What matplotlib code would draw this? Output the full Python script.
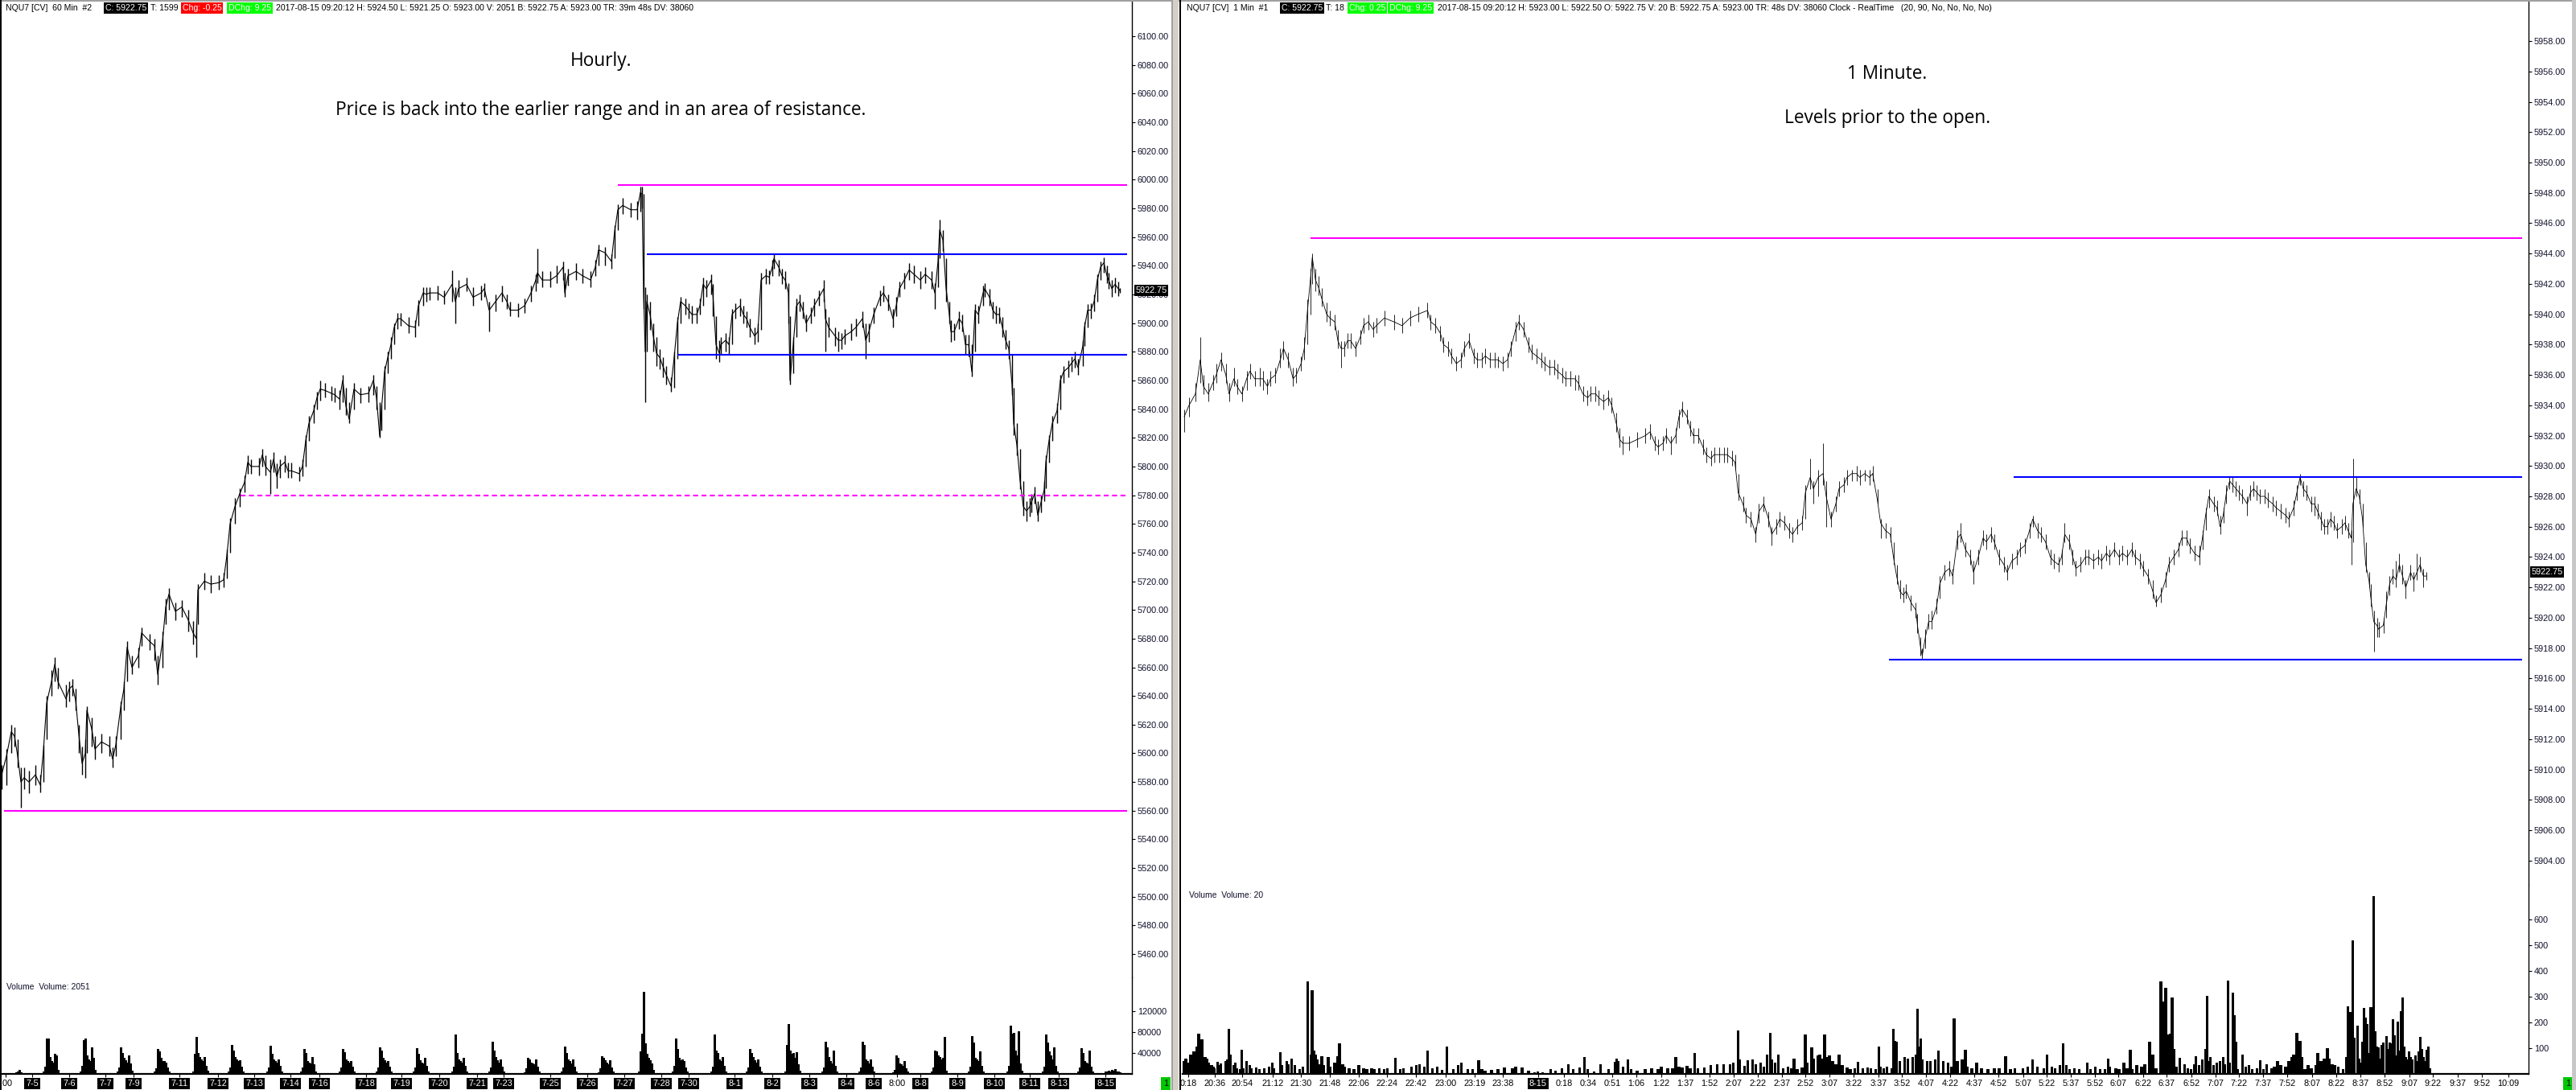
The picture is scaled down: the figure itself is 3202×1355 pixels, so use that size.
import numpy as np
import matplotlib
matplotlib.use("Agg")
import matplotlib.pyplot as plt
from matplotlib.patches import Rectangle

# ── Hourly chart (left): bar index, close, high, low ──
hour_bar = [1, 4, 7, 9, 11, 13, 15, 18, 22, 25,
            27, 29, 32, 34, 36, 41, 43, 45, 47, 49,
            51, 53, 54, 57, 59, 63, 68, 70, 72, 75,
            77, 79, 82, 86, 88, 93, 96, 98, 101, 103,
            105, 109, 113, 117, 120, 122, 123, 127, 131, 136,
            139, 141, 143, 146, 149, 152, 154, 156, 161, 163,
            165, 168, 170, 172, 174, 177, 179, 181, 186, 188,
            190, 192, 195, 197, 199, 202, 206, 208, 211, 213,
            215, 217, 220, 224, 229, 232, 234, 236, 237, 239,
            241, 243, 245, 247, 249, 254, 258, 260, 263, 265,
            267, 272, 276, 281, 283, 285, 290, 294, 299, 301,
            304, 308, 312, 315, 317, 322, 326, 330, 333, 334,
            337, 342, 346, 350, 351, 353, 358, 362, 367, 370,
            372, 376, 380, 382, 384, 387, 392, 396, 398, 399,
            400, 401, 402, 404, 406, 408, 410, 412, 414, 417,
            419, 421, 423, 426, 428, 430, 433, 435, 437, 439,
            442, 443, 445, 447, 448, 451, 453, 455, 457, 460,
            462, 464, 466, 469, 471, 473, 476, 478, 480, 481,
            484, 486, 488, 490, 491, 493, 495, 497, 499, 501,
            504, 506, 509, 512, 513, 515, 519, 521, 523, 525,
            529, 532, 536, 538, 540, 543, 547, 549, 552, 555,
            557, 559, 562, 565, 568, 572, 575, 579, 581, 583,
            584, 586, 588, 590, 591, 593, 596, 598, 600, 602,
            604, 606, 608, 611, 612, 615, 617, 619, 621, 623,
            625, 627, 629, 630, 632, 634, 636, 638, 640, 641,
            643, 645, 647, 649, 650, 652, 654, 657, 659, 661,
            664, 666, 668, 670, 673, 674, 676, 678, 680, 682,
            684, 686, 688, 689, 691, 693, 695, 696]
hour_close = [5585, 5598, 5615, 5612, 5598, 5580, 5583, 5580, 5585, 5578,
              5602, 5635, 5650, 5662, 5650, 5638, 5645, 5647, 5637, 5613,
              5593, 5600, 5630, 5617, 5603, 5608, 5605, 5596, 5606, 5632,
              5645, 5674, 5660, 5668, 5684, 5678, 5675, 5655, 5678, 5702,
              5711, 5699, 5702, 5693, 5684, 5680, 5714, 5720, 5718, 5719,
              5721, 5738, 5760, 5772, 5781, 5789, 5803, 5800, 5800, 5808,
              5800, 5796, 5805, 5793, 5800, 5803, 5797, 5797, 5795, 5800,
              5818, 5830, 5839, 5848, 5854, 5853, 5851, 5850, 5847, 5860,
              5842, 5833, 5854, 5850, 5851, 5860, 5848, 5821, 5839, 5866,
              5876, 5885, 5897, 5903, 5903, 5898, 5897, 5912, 5921, 5920,
              5921, 5921, 5918, 5927, 5915, 5924, 5927, 5918, 5921, 5924,
              5909, 5915, 5921, 5915, 5909, 5909, 5912, 5921, 5930, 5935,
              5930, 5930, 5933, 5939, 5921, 5933, 5936, 5933, 5930, 5939,
              5951, 5949, 5943, 5964, 5979, 5982, 5979, 5979, 5991, 5990,
              5921, 5880, 5915, 5906, 5891, 5879, 5876, 5870, 5864, 5856,
              5876, 5900, 5915, 5912, 5909, 5906, 5906, 5912, 5927, 5924,
              5930, 5921, 5885, 5879, 5885, 5888, 5885, 5906, 5909, 5912,
              5906, 5903, 5897, 5891, 5894, 5930, 5933, 5932, 5939, 5945,
              5939, 5933, 5930, 5921, 5860, 5885, 5912, 5915, 5909, 5900,
              5906, 5912, 5918, 5924, 5903, 5897, 5891, 5888, 5888, 5891,
              5894, 5897, 5903, 5888, 5894, 5906, 5918, 5921, 5915, 5903,
              5912, 5924, 5930, 5937, 5934, 5930, 5934, 5930, 5921, 5943,
              5965, 5958, 5924, 5906, 5894, 5894, 5903, 5900, 5885, 5885,
              5866, 5909, 5906, 5921, 5924, 5918, 5909, 5906, 5906, 5897,
              5888, 5882, 5857, 5830, 5815, 5790, 5772, 5769, 5772, 5775,
              5781, 5766, 5775, 5784, 5803, 5818, 5830, 5839, 5860, 5866,
              5869, 5872, 5875, 5869, 5884, 5897, 5909, 5909, 5915, 5930,
              5939, 5942, 5933, 5930, 5924, 5927, 5924, 5922.75]
hour_high = [5592, 5603, 5620, 5618, 5610, 5590, 5590, 5588, 5592, 5585,
             5606, 5640, 5658, 5667, 5660, 5648, 5650, 5652, 5645, 5620,
             5605, 5610, 5633, 5625, 5612, 5614, 5612, 5604, 5612, 5636,
             5650, 5678, 5668, 5674, 5688, 5683, 5680, 5668, 5685, 5708,
             5715, 5705, 5707, 5700, 5692, 5690, 5718, 5726, 5724, 5724,
             5726, 5742, 5764, 5778, 5785, 5794, 5808, 5805, 5806, 5812,
             5808, 5805, 5810, 5802, 5805, 5808, 5803, 5803, 5800, 5805,
             5822, 5835, 5843, 5852, 5860, 5858, 5856, 5855, 5853, 5864,
             5855, 5845, 5858, 5855, 5856, 5864, 5856, 5845, 5843, 5870,
             5880, 5890, 5900, 5907, 5907, 5904, 5902, 5916, 5925, 5925,
             5925, 5926, 5923, 5937, 5925, 5930, 5932, 5925, 5926, 5928,
             5915, 5920, 5926, 5920, 5915, 5914, 5917, 5926, 5934, 5952,
             5936, 5936, 5940, 5943, 5935, 5938, 5942, 5938, 5936, 5944,
             5955, 5953, 5948, 5968, 5983, 5987, 5984, 5985, 5995, 5995,
             5990, 5925, 5920, 5915, 5900, 5890, 5882, 5876, 5870, 5862,
             5880, 5904, 5918, 5917, 5914, 5912, 5911, 5917, 5932, 5930,
             5934, 5927, 5905, 5888, 5890, 5893, 5890, 5910, 5914, 5917,
             5912, 5908, 5903, 5897, 5900, 5935, 5938, 5937, 5944, 5948,
             5944, 5938, 5936, 5928, 5905, 5890, 5917, 5920, 5915, 5906,
             5911, 5917, 5923, 5930, 5910, 5904, 5897, 5894, 5893, 5896,
             5900, 5903, 5908, 5900, 5900, 5911, 5923, 5926, 5920, 5910,
             5918, 5929, 5935, 5942, 5940, 5936, 5939, 5936, 5928, 5948,
             5972, 5965, 5945, 5915, 5902, 5900, 5908, 5906, 5892, 5892,
             5885, 5913, 5912, 5926, 5928, 5924, 5915, 5912, 5911, 5904,
             5895, 5888, 5878, 5855, 5830, 5812, 5790, 5776, 5778, 5781,
             5786, 5776, 5780, 5790, 5808, 5822, 5835, 5844, 5864, 5870,
             5874, 5877, 5880, 5875, 5888, 5901, 5913, 5914, 5920, 5934,
             5943, 5946, 5940, 5935, 5930, 5932, 5929, 5924.5]
hour_low = [5575, 5578, 5600, 5605, 5590, 5562, 5575, 5572, 5578, 5573,
            5580, 5610, 5640, 5650, 5645, 5632, 5636, 5640, 5630, 5600,
            5585, 5583, 5600, 5605, 5596, 5600, 5598, 5590, 5598, 5610,
            5630, 5650, 5655, 5660, 5675, 5672, 5665, 5648, 5660, 5690,
            5700, 5693, 5695, 5685, 5676, 5667, 5690, 5714, 5712, 5714,
            5716, 5722, 5740, 5760, 5772, 5782, 5795, 5795, 5794, 5800,
            5794, 5781, 5796, 5785, 5792, 5796, 5792, 5792, 5790, 5793,
            5800, 5818, 5830, 5840, 5846, 5848, 5846, 5845, 5840, 5845,
            5836, 5830, 5840, 5844, 5845, 5850, 5840, 5820, 5825, 5840,
            5865, 5875, 5885, 5896, 5898, 5893, 5890, 5898, 5912, 5915,
            5916, 5916, 5913, 5915, 5900, 5918, 5922, 5912, 5916, 5918,
            5894, 5908, 5915, 5910, 5905, 5904, 5907, 5915, 5922, 5928,
            5925, 5925, 5928, 5930, 5918, 5926, 5930, 5928, 5925, 5933,
            5940, 5940, 5938, 5945, 5965, 5976, 5974, 5972, 5978, 5980,
            5910, 5845, 5880, 5895, 5880, 5870, 5868, 5862, 5857, 5852,
            5855, 5875, 5900, 5906, 5903, 5900, 5900, 5906, 5912, 5918,
            5920, 5905, 5875, 5873, 5878, 5880, 5878, 5885, 5903, 5905,
            5900, 5897, 5890, 5885, 5887, 5895, 5927, 5927, 5933, 5938,
            5933, 5927, 5924, 5900, 5857, 5865, 5890, 5908, 5903, 5894,
            5900, 5905, 5912, 5915, 5880, 5890, 5884, 5880, 5882, 5885,
            5888, 5891, 5897, 5875, 5887, 5900, 5912, 5915, 5909, 5897,
            5905, 5918, 5924, 5930, 5928, 5924, 5928, 5924, 5910, 5925,
            5945, 5950, 5915, 5900, 5887, 5888, 5896, 5894, 5878, 5877,
            5863, 5880, 5900, 5912, 5918, 5912, 5903, 5900, 5900, 5890,
            5882, 5875, 5850, 5822, 5808, 5784, 5766, 5762, 5765, 5768,
            5774, 5762, 5768, 5776, 5785, 5803, 5818, 5830, 5840, 5858,
            5862, 5866, 5869, 5864, 5870, 5884, 5897, 5903, 5908, 5915,
            5930, 5935, 5928, 5924, 5918, 5921, 5919, 5921.25]

# hourly volume, one cluster of bars per session (thousands of contracts)
vol_cluster_start = [10, 27, 50, 73, 96, 120, 142, 166, 187, 211, 234, 257, 281, 304, 326, 349,
                     372, 397, 418, 442, 464, 488, 511, 534, 555, 579, 602, 626, 648, 670, 687]
vol_cluster_k = [
    [3, 4, 8, 3],
    [4, 14, 67, 68, 32, 25, 22, 39, 35, 8],
    [5, 15, 64, 68, 35, 28, 24, 50, 30, 8],
    [4, 12, 51, 40, 30, 26, 22, 35, 20, 6],
    [4, 10, 47, 43, 30, 25, 24, 22, 12, 5],
    [5, 38, 70, 40, 32, 28, 24, 33, 15, 6],
    [4, 12, 55, 45, 32, 28, 24, 26, 14, 5],
    [4, 12, 54, 38, 27, 24, 22, 28, 15, 5],
    [4, 12, 47, 40, 24, 22, 20, 32, 18, 5],
    [4, 12, 47, 42, 28, 25, 22, 24, 14, 5],
    [4, 12, 50, 45, 30, 26, 22, 25, 14, 5],
    [4, 12, 49, 38, 26, 22, 20, 30, 15, 5],
    [4, 14, 75, 40, 27, 24, 22, 30, 16, 5],
    [4, 12, 62, 44, 32, 26, 22, 27, 14, 5],
    [3, 10, 30, 28, 22, 20, 18, 27, 14, 4],
    [4, 12, 52, 40, 28, 24, 20, 28, 14, 5],
    [3, 10, 34, 30, 26, 22, 18, 26, 12, 4],
    [4, 43, 77, 157, 58, 38, 30, 26, 20, 8],
    [5, 15, 68, 48, 30, 26, 27, 24, 12, 5],
    [5, 14, 76, 45, 40, 28, 24, 32, 15, 5],
    [4, 12, 48, 40, 32, 26, 22, 27, 14, 5],
    [5, 56, 96, 45, 38, 40, 30, 41, 18, 6],
    [4, 12, 62, 50, 32, 25, 20, 45, 15, 5],
    [4, 12, 62, 55, 27, 24, 20, 28, 14, 5],
    [3, 8, 35, 30, 20, 18, 15, 25, 10, 4],
    [4, 12, 44, 43, 36, 32, 28, 30, 70, 6],
    [5, 14, 73, 60, 30, 28, 24, 43, 15, 5],
    [5, 15, 92, 77, 79, 45, 35, 81, 20, 6],
    [5, 14, 76, 60, 43, 35, 28, 50, 15, 5],
    [4, 12, 49, 40, 25, 22, 20, 45, 14, 5],
    [4, 5, 6, 5, 7, 6, 9, 5, 4, 3],
]

hour_tick_pos = [3.5, 20, 43, 65.5, 83, 111.5, 135.5, 158, 180.5, 198.5, 227.5, 249.5, 273, 296.5,
                 313, 342, 365, 388, 411, 428, 456.5, 480, 503, 526, 543, 557.5, 572, 595, 618,
                 640, 658, 687]
hour_tick_lab = [":00", "7-5", "7-6", "7-7", "7-9", "7-11", "7-12", "7-13", "7-14", "7-16", "7-18",
                 "7-19", "7-20", "7-21", "7-23", "7-25", "7-26", "7-27", "7-28", "7-30", "8-1",
                 "8-2", "8-3", "8-4", "8-6", "8:00", "8-8", "8-9", "8-10", "8-11", "8-13", "8-15"]

# horizontal levels on the hourly chart: price, first bar, colour, style
hour_level_price = [5996, 5948, 5878, 5779.5, 5560]
hour_level_start = [384, 402, 421, 149.5, 2.5]
hour_level_color = ["#ff00ff", "#0000ff", "#0000ff", "#ff00ff", "#ff00ff"]
hour_level_dash = [False, False, False, True, False]

# ── 1 minute chart (right): bar index, close, high, low ──
min_bar = [1, 4, 8, 11, 13, 16, 19, 21, 24, 27,
           29, 32, 34, 37, 40, 42, 45, 48, 50, 53,
           55, 58, 61, 63, 66, 69, 71, 74, 76, 78,
           80, 81, 83, 85, 87, 90, 92, 95, 97, 99,
           101, 103, 105, 108, 111, 113, 116, 119, 121, 126,
           132, 137, 142, 147, 153, 155, 158, 161, 163, 166,
           168, 171, 174, 176, 179, 182, 184, 187, 189, 192,
           195, 197, 200, 203, 205, 208, 210, 213, 216, 218,
           221, 224, 226, 229, 232, 234, 237, 239, 242, 245,
           247, 250, 253, 255, 258, 260, 263, 266, 268, 271,
           273, 275, 279, 284, 289, 292, 295, 297, 300, 302,
           305, 308, 310, 312, 315, 317, 319, 322, 325, 327,
           330, 332, 335, 338, 340, 343, 345, 347, 350, 352,
           355, 358, 360, 363, 366, 368, 371, 373, 376, 379,
           381, 384, 387, 389, 392, 394, 397, 400, 402, 405,
           408, 410, 413, 415, 418, 421, 423, 426, 429, 431,
           434, 436, 439, 442, 444, 446, 448, 450, 452, 455,
           458, 459, 461, 462, 464, 466, 468, 471, 473, 476,
           479, 481, 484, 486, 489, 492, 494, 497, 500, 502,
           505, 507, 510, 513, 515, 518, 521, 523, 526, 529,
           531, 534, 536, 539, 542, 544, 547, 549, 551, 554,
           556, 558, 561, 564, 566, 569, 572, 574, 577, 579,
           582, 585, 587, 590, 593, 595, 598, 600, 603, 606,
           608, 611, 614, 616, 619, 622, 624, 627, 629, 632,
           635, 637, 639, 641, 644, 646, 648, 650, 652, 654,
           656, 658, 660, 662, 665, 667, 669, 671, 673, 676,
           678, 681, 683, 686, 689, 691, 694, 696, 698, 700,
           702, 705, 707, 709, 711, 713, 715, 717, 719, 721,
           724, 726, 728, 730, 731, 733, 735, 737, 739, 741,
           742, 744, 746, 747, 750, 752, 754, 756, 758, 760,
           762, 764, 767, 769, 771, 773, 775, 777]
min_close = [5933.25, 5934.0, 5934.75, 5937.0, 5935.25, 5934.75, 5935.5, 5936.0, 5937.0, 5936.0,
             5934.75, 5935.75, 5935.25, 5934.75, 5935.75, 5936.25, 5935.75, 5935.75, 5935.75, 5935.25,
             5935.75, 5936.0, 5937.0, 5937.75, 5937.0, 5935.75, 5936.0, 5936.75, 5937.75, 5940.25,
             5942.5, 5943.75, 5942.25, 5941.75, 5941.0, 5940.0, 5939.75, 5939.5, 5938.25, 5937.75,
             5937.75, 5938.25, 5938.25, 5937.75, 5938.5, 5939.25, 5939.5, 5939.0, 5939.25, 5939.75,
             5939.5, 5939.25, 5939.75, 5940.0, 5940.25, 5939.5, 5939.25, 5938.75, 5938.0, 5937.75,
             5937.25, 5936.75, 5937.0, 5937.75, 5938.25, 5937.25, 5937.0, 5937.0, 5937.25, 5937.0,
             5937.0, 5937.0, 5936.75, 5937.0, 5937.75, 5939.0, 5939.5, 5939.0, 5938.0, 5937.5,
             5937.25, 5937.0, 5936.75, 5936.5, 5936.5, 5936.25, 5936.0, 5935.75, 5935.75, 5935.75,
             5935.5, 5934.75, 5934.5, 5934.75, 5934.75, 5934.5, 5934.25, 5934.5, 5934.0, 5932.75,
             5931.75, 5931.5, 5931.5, 5931.75, 5932.0, 5932.25, 5931.5, 5931.25, 5931.5, 5932.0,
             5931.5, 5932.0, 5933.25, 5933.75, 5933.25, 5932.5, 5932.0, 5932.0, 5931.25, 5930.75,
             5930.5, 5930.75, 5930.75, 5930.75, 5930.75, 5930.5, 5930.25, 5928.25, 5927.5, 5926.75,
             5926.5, 5925.5, 5927.0, 5927.5, 5926.5, 5925.5, 5926.0, 5926.5, 5926.25, 5925.75,
             5925.5, 5926.0, 5926.25, 5928.25, 5929.25, 5928.5, 5929.25, 5929.5, 5928.0, 5926.5,
             5927.5, 5928.5, 5928.75, 5929.25, 5929.5, 5929.5, 5929.25, 5929.5, 5929.25, 5929.5,
             5927.75, 5926.25, 5925.75, 5925.5, 5924.0, 5922.75, 5921.75, 5921.5, 5921.75, 5921.0,
             5920.5, 5919.5, 5918.0, 5917.5, 5918.75, 5919.75, 5919.75, 5920.75, 5922.25, 5923.0,
             5923.25, 5922.75, 5925.25, 5925.5, 5924.5, 5924.0, 5923.0, 5924.0, 5925.25, 5925.0,
             5925.5, 5925.0, 5924.0, 5923.5, 5923.0, 5923.75, 5924.0, 5924.5, 5924.75, 5925.75,
             5926.5, 5925.75, 5925.5, 5925.0, 5924.0, 5923.75, 5923.5, 5924.0, 5925.5, 5925.0,
             5924.0, 5923.25, 5923.5, 5924.0, 5924.0, 5923.75, 5924.0, 5923.75, 5924.25, 5924.0,
             5924.5, 5924.0, 5924.25, 5924.0, 5924.5, 5924.0, 5923.75, 5923.25, 5922.75, 5921.75,
             5921.0, 5921.5, 5922.5, 5923.5, 5924.0, 5924.5, 5925.25, 5925.25, 5924.75, 5924.25,
             5924.0, 5925.25, 5926.75, 5928.0, 5927.5, 5927.25, 5926.0, 5926.75, 5928.25, 5929.0,
             5928.75, 5928.5, 5928.25, 5928.0, 5927.5, 5928.25, 5928.5, 5928.25, 5928.0, 5928.0,
             5927.75, 5927.5, 5927.25, 5927.0, 5926.75, 5926.5, 5927.25, 5928.25, 5929.25, 5928.5,
             5928.25, 5927.5, 5927.5, 5927.0, 5926.5, 5926.0, 5926.0, 5926.5, 5926.25, 5925.75,
             5926.0, 5926.25, 5925.75, 5925.25, 5927.5, 5928.5, 5928.0, 5926.5, 5923.5, 5922.5,
             5921.5, 5919.75, 5919.5, 5919.25, 5919.5, 5921.0, 5922.25, 5922.75, 5922.5, 5923.5,
             5922.75, 5922.0, 5923.0, 5922.5, 5923.0, 5923.5, 5922.75, 5922.75]
min_high = [5933.75, 5934.5, 5935.5, 5938.5, 5936.0, 5935.5, 5936.0, 5936.75, 5937.5, 5936.75,
            5935.5, 5936.5, 5935.75, 5935.25, 5936.25, 5936.75, 5936.25, 5936.5, 5936.25, 5935.75,
            5936.25, 5936.5, 5937.75, 5938.25, 5937.5, 5936.5, 5936.5, 5937.25, 5938.5, 5941.0,
            5943.0, 5944.0, 5943.0, 5942.5, 5941.75, 5940.75, 5940.25, 5940.0, 5939.0, 5938.25,
            5938.25, 5938.75, 5938.75, 5938.25, 5939.0, 5939.75, 5940.0, 5939.5, 5939.75, 5940.25,
            5940.0, 5939.75, 5940.25, 5940.5, 5940.75, 5940.0, 5939.75, 5939.25, 5938.5, 5938.25,
            5937.75, 5937.25, 5937.5, 5938.25, 5938.75, 5937.75, 5937.5, 5937.5, 5937.75, 5937.5,
            5937.5, 5937.25, 5937.25, 5937.5, 5938.25, 5939.5, 5940.0, 5939.5, 5938.5, 5938.0,
            5937.75, 5937.5, 5937.25, 5937.0, 5937.0, 5936.75, 5936.5, 5936.25, 5936.25, 5936.0,
            5936.0, 5935.25, 5935.0, 5935.25, 5935.25, 5935.0, 5934.75, 5935.0, 5934.5, 5933.5,
            5932.5, 5932.0, 5932.0, 5932.25, 5932.5, 5932.75, 5932.0, 5931.75, 5932.0, 5932.5,
            5932.0, 5932.5, 5933.75, 5934.25, 5933.75, 5933.0, 5932.5, 5932.5, 5931.75, 5931.25,
            5931.0, 5931.25, 5931.25, 5931.25, 5931.25, 5931.0, 5930.75, 5929.5, 5928.0, 5927.25,
            5927.0, 5926.0, 5927.5, 5928.0, 5927.0, 5926.0, 5926.5, 5927.0, 5926.75, 5926.25,
            5926.0, 5926.5, 5926.75, 5928.75, 5930.5, 5929.0, 5929.75, 5931.5, 5929.0, 5927.0,
            5928.0, 5929.0, 5929.25, 5929.75, 5929.75, 5930.0, 5929.75, 5929.75, 5929.75, 5930.0,
            5928.5, 5926.5, 5926.25, 5926.0, 5925.0, 5923.5, 5922.5, 5922.0, 5922.25, 5921.5,
            5921.0, 5920.25, 5918.75, 5918.0, 5919.25, 5920.25, 5920.5, 5921.25, 5922.75, 5923.5,
            5923.75, 5923.25, 5925.75, 5926.25, 5925.0, 5924.5, 5923.75, 5924.5, 5925.75, 5925.5,
            5926.0, 5925.5, 5924.5, 5924.0, 5923.5, 5924.25, 5924.5, 5925.0, 5925.25, 5926.25,
            5926.75, 5926.25, 5926.0, 5925.5, 5924.5, 5924.25, 5924.0, 5924.5, 5926.25, 5925.5,
            5924.5, 5923.75, 5924.0, 5924.5, 5924.5, 5924.25, 5924.5, 5924.25, 5924.75, 5924.5,
            5925.0, 5924.5, 5924.75, 5924.5, 5925.0, 5924.5, 5924.25, 5923.75, 5923.25, 5922.5,
            5921.5, 5922.0, 5923.0, 5924.0, 5924.5, 5925.0, 5925.75, 5925.75, 5925.25, 5924.75,
            5924.75, 5925.75, 5927.25, 5928.5, 5928.0, 5927.75, 5926.75, 5927.25, 5928.75, 5929.25,
            5929.25, 5929.0, 5928.75, 5928.5, 5928.0, 5928.75, 5929.0, 5928.75, 5928.5, 5928.5,
            5928.25, 5928.0, 5927.75, 5927.5, 5927.25, 5927.0, 5927.75, 5928.75, 5929.5, 5929.0,
            5928.75, 5928.0, 5928.0, 5927.5, 5927.0, 5926.5, 5926.5, 5927.0, 5926.75, 5926.25,
            5926.5, 5926.75, 5926.25, 5925.75, 5930.5, 5929.25, 5928.5, 5927.5, 5925.0, 5923.0,
            5922.25, 5920.5, 5920.0, 5919.75, 5920.0, 5921.75, 5922.75, 5923.25, 5923.75, 5924.25,
            5923.5, 5922.5, 5923.5, 5923.0, 5924.25, 5924.0, 5923.25, 5923.0]
min_low = [5932.25, 5933.25, 5934.25, 5935.5, 5934.75, 5934.25, 5935.0, 5935.5, 5936.25, 5935.5,
           5934.25, 5935.25, 5934.75, 5934.25, 5935.0, 5935.75, 5935.25, 5935.25, 5935.0, 5934.75,
           5935.25, 5935.5, 5936.5, 5937.0, 5936.5, 5935.25, 5935.5, 5936.25, 5937.0, 5938.0,
           5940.0, 5942.0, 5941.5, 5941.25, 5940.5, 5939.5, 5939.25, 5939.0, 5937.75, 5936.5,
           5937.25, 5937.75, 5937.75, 5937.25, 5938.0, 5938.75, 5939.0, 5938.5, 5938.75, 5939.25,
           5939.0, 5938.75, 5939.25, 5939.5, 5939.75, 5939.0, 5938.75, 5938.25, 5937.5, 5937.25,
           5936.75, 5936.25, 5936.5, 5937.25, 5937.75, 5936.75, 5936.5, 5936.5, 5936.75, 5936.5,
           5936.5, 5936.5, 5936.25, 5936.5, 5937.25, 5938.25, 5939.0, 5938.5, 5937.5, 5937.0,
           5936.75, 5936.5, 5936.25, 5936.0, 5936.0, 5935.75, 5935.5, 5935.25, 5935.25, 5935.0,
           5935.0, 5934.25, 5934.0, 5934.25, 5934.25, 5934.0, 5933.75, 5934.0, 5933.5, 5932.25,
           5931.25, 5930.75, 5931.0, 5931.25, 5931.5, 5931.75, 5931.0, 5930.75, 5931.0, 5931.5,
           5930.75, 5931.5, 5932.5, 5933.25, 5932.75, 5932.0, 5931.5, 5931.5, 5930.75, 5930.25,
           5930.0, 5930.25, 5930.25, 5930.25, 5930.25, 5930.0, 5929.75, 5927.75, 5927.0, 5926.25,
           5926.0, 5925.0, 5926.25, 5927.0, 5926.0, 5924.75, 5925.5, 5926.0, 5925.75, 5925.25,
           5925.0, 5925.5, 5925.75, 5926.5, 5928.5, 5927.5, 5928.0, 5928.75, 5926.0, 5926.0,
           5927.0, 5928.0, 5928.25, 5928.75, 5929.0, 5929.0, 5928.75, 5929.0, 5928.75, 5929.0,
           5927.5, 5925.25, 5925.25, 5925.0, 5923.5, 5922.25, 5921.25, 5921.0, 5921.25, 5920.5,
           5920.0, 5919.0, 5917.5, 5917.25, 5918.0, 5919.25, 5919.25, 5920.25, 5921.25, 5922.5,
           5922.75, 5922.25, 5924.5, 5925.0, 5924.0, 5923.5, 5922.25, 5923.5, 5924.75, 5924.5,
           5925.0, 5924.5, 5923.5, 5923.0, 5922.5, 5923.25, 5923.5, 5924.0, 5924.25, 5925.25,
           5926.0, 5925.25, 5925.0, 5924.5, 5923.5, 5923.25, 5923.0, 5923.5, 5925.0, 5924.5,
           5923.5, 5922.75, 5923.0, 5923.5, 5923.5, 5923.25, 5923.5, 5923.25, 5923.75, 5923.5,
           5924.0, 5923.5, 5923.75, 5923.5, 5924.0, 5923.5, 5923.25, 5922.75, 5922.25, 5921.25,
           5920.75, 5921.0, 5922.0, 5923.0, 5923.5, 5924.0, 5924.75, 5924.75, 5924.25, 5923.75,
           5923.5, 5924.5, 5925.75, 5927.25, 5927.0, 5926.75, 5925.5, 5926.25, 5927.5, 5928.5,
           5928.25, 5928.0, 5927.75, 5927.5, 5926.75, 5927.75, 5928.0, 5927.75, 5927.5, 5927.5,
           5927.25, 5927.0, 5926.75, 5926.5, 5926.25, 5926.0, 5926.75, 5927.75, 5928.75, 5928.0,
           5927.75, 5927.0, 5926.75, 5926.5, 5925.75, 5925.5, 5925.5, 5926.0, 5925.75, 5925.25,
           5925.5, 5925.75, 5925.25, 5923.5, 5925.0, 5928.0, 5927.5, 5926.0, 5923.0, 5922.0,
           5920.75, 5917.75, 5918.75, 5918.75, 5919.0, 5920.0, 5921.5, 5922.25, 5922.0, 5923.0,
           5922.25, 5921.25, 5922.5, 5921.75, 5922.5, 5923.0, 5922.0, 5922.5]

# 1 minute volume (contracts)
min_vol_bar = [1, 2, 4, 5, 6, 7, 9, 10, 11, 12,
               14, 15, 16, 18, 19, 20, 22, 23, 24, 27,
               28, 29, 30, 32, 33, 34, 36, 37, 38, 40,
               42, 43, 46, 48, 51, 54, 56, 57, 61, 62,
               65, 66, 68, 70, 73, 75, 78, 80, 81, 82,
               83, 84, 86, 87, 88, 91, 92, 95, 97, 98,
               100, 101, 104, 107, 110, 113, 115, 118, 120, 123,
               126, 128, 133, 136, 138, 143, 146, 148, 151, 153,
               156, 159, 162, 165, 169, 172, 174, 178, 181, 185,
               187, 189, 193, 197, 201, 206, 208, 212, 216, 220,
               222, 225, 230, 233, 237, 241, 244, 248, 251, 253,
               257, 261, 266, 270, 271, 272, 275, 278, 280, 284,
               289, 293, 297, 299, 303, 306, 308, 310, 312, 315,
               317, 320, 322, 326, 330, 334, 338, 342, 344, 347,
               348, 351, 353, 356, 358, 361, 363, 365, 367, 368,
               370, 372, 375, 378, 380, 382, 384, 387, 389, 390,
               393, 394, 397, 398, 399, 401, 402, 404, 406, 408,
               410, 412, 415, 417, 420, 422, 425, 428, 430, 433,
               435, 436, 438, 440, 443, 444, 445, 446, 448, 451,
               453, 456, 458, 459, 460, 461, 462, 465, 467, 470,
               472, 475, 478, 480, 482, 484, 487, 489, 490, 493,
               496, 499, 503, 507, 510, 514, 517, 520, 525, 528,
               531, 534, 538, 540, 543, 545, 548, 550, 552, 554,
               557, 560, 565, 567, 570, 573, 576, 578, 579, 583,
               585, 588, 590, 592, 593, 596, 599, 601, 604, 606,
               608, 611, 612, 613, 614, 615, 617, 618, 619, 621,
               623, 626, 628, 630, 632, 633, 635, 637, 639, 640,
               641, 642, 644, 646, 648, 650, 651, 653, 654, 656,
               657, 658, 659, 662, 664, 666, 668, 671, 673, 675,
               677, 680, 682, 684, 686, 689, 691, 693, 694, 696,
               698, 699, 701, 703, 705, 708, 709, 711, 713, 715,
               716, 718, 720, 722, 725, 727, 728, 729, 730, 731,
               732, 734, 735, 736, 737, 738, 739, 740, 741, 742,
               743, 744, 745, 746, 747, 748, 749, 750, 752, 753,
               754, 755, 756, 757, 758, 759, 760, 761, 762, 763,
               764, 765, 766, 767, 768, 770, 771, 772, 773, 774,
               775, 776, 777, 778, 779]
min_vol = [49, 60, 44, 76, 76, 86, 107, 155, 107, 134,
           65, 60, 44, 34, 28, 23, 46, 34, 42, 49,
           55, 176, 76, 34, 44, 23, 18, 95, 23, 49,
           34, 23, 25, 18, 23, 28, 44, 23, 84, 34,
           49, 39, 60, 34, 18, 28, 360, 76, 326, 92,
           76, 55, 39, 70, 34, 65, 28, 44, 70, 118,
           39, 28, 23, 18, 34, 23, 18, 23, 18, 21,
           18, 23, 63, 18, 23, 28, 34, 39, 28, 92,
           23, 28, 15, 105, 18, 34, 44, 18, 18, 52,
           18, 13, 15, 18, 25, 23, 28, 25, 13, 7,
           10, 7, 18, 13, 23, 39, 18, 25, 67, 18,
           10, 36, 18, 46, 60, 49, 28, 57, 18, 13,
           18, 23, 18, 28, 23, 23, 65, 28, 25, 32,
           23, 80, 23, 25, 34, 36, 39, 39, 44, 170,
           55, 32, 52, 55, 39, 44, 28, 76, 158, 55,
           44, 76, 23, 28, 23, 60, 18, 25, 152, 44,
           102, 60, 71, 76, 60, 154, 65, 71, 49, 39,
           74, 34, 25, 18, 21, 46, 23, 25, 21, 18,
           105, 28, 23, 28, 23, 176, 128, 126, 49, 65,
           60, 65, 76, 253, 107, 137, 55, 49, 49, 55,
           92, 49, 44, 28, 215, 49, 55, 95, 28, 23,
           44, 23, 18, 23, 23, 69, 18, 23, 23, 28,
           55, 28, 23, 76, 28, 23, 34, 118, 34, 18,
           23, 18, 44, 18, 28, 18, 18, 60, 28, 23,
           18, 44, 23, 95, 18, 34, 28, 39, 126, 76,
           23, 360, 281, 44, 334, 152, 155, 297, 97, 28,
           63, 39, 23, 18, 39, 69, 34, 55, 97, 302,
           49, 65, 34, 44, 49, 65, 39, 362, 44, 315,
           228, 126, 18, 76, 28, 34, 18, 23, 53, 18,
           39, 23, 28, 49, 34, 28, 49, 65, 76, 160,
           128, 65, 18, 34, 23, 34, 80, 49, 60, 99,
           60, 39, 34, 28, 18, 65, 263, 242, 239, 520,
           139, 186, 60, 44, 126, 255, 218, 194, 81, 260,
           260, 690, 165, 107, 102, 60, 113, 123, 147, 97,
           123, 118, 213, 149, 71, 202, 92, 244, 297, 107,
           65, 55, 86, 65, 55, 71, 49, 88, 144, 97,
           65, 49, 95, 107, 23]

min_tick_pos = [3.5, 20.1, 37.2, 56.3, 73.9, 92.0, 110.1, 127.6, 145.7, 164.3, 182.4, 200.0,
                222.1, 238.2, 253.3, 268.3, 283.4, 299.0, 314.1, 329.1, 344.2, 359.3, 374.4,
                388.9, 404.0, 419.1, 434.7, 449.2, 464.3, 479.4, 494.5, 509.5, 525.1, 539.7,
                554.8, 569.8, 584.4, 600.0, 614.6, 630.2, 645.2, 659.8, 674.9, 690.0, 705.5,
                720.6, 735.7, 750.8, 766.3, 780.9, 796.5, 811.6, 828.1]
min_tick_lab = ["0:18", "20:36", "20:54", "21:12", "21:30", "21:48", "22:06", "22:24", "22:42",
                "23:00", "23:19", "23:38", "8-15", "0:18", "0:34", "0:51", "1:06", "1:22", "1:37",
                "1:52", "2:07", "2:22", "2:37", "2:52", "3:07", "3:22", "3:37", "3:52", "4:07",
                "4:22", "4:37", "4:52", "5:07", "5:22", "5:37", "5:52", "6:07", "6:22", "6:37",
                "6:52", "7:07", "7:22", "7:37", "7:52", "8:07", "8:22", "8:37", "8:52", "9:07",
                "9:22", "9:37", "9:52", "10:09"]

min_level_price = [5945, 5929.25, 5917.25]
min_level_start = [80, 519, 441]
min_level_color = ["#ff00ff", "#0000ff", "#0000ff"]

last_price = 5922.75

# ── Layout (pixel based, 3202 x 1355) ──
W, H = 3202, 1355
plt.rcParams["font.family"] = ["Liberation Sans", "DejaVu Sans"]
plt.rcParams["font.size"] = 7.8
TXT = "#10102a"

fig = plt.figure(figsize=(W / 100, H / 100), dpi=100)
fig.patch.set_facecolor("white")


def px_ax(x0, y0, x1, y1):
    return fig.add_axes([x0 / W, 1 - y1 / H, (x1 - x0) / W, (y1 - y0) / H])


def ftxt(x, y, s, **kw):
    kw.setdefault("va", "center")
    kw.setdefault("ha", "left")
    return fig.text(x / W, 1 - y / H, s, **kw)


def style_price(ax, ticks, fmt):
    for s in ("left", "top", "bottom"):
        ax.spines[s].set_visible(False)
    ax.spines["right"].set_linewidth(1.0)
    ax.yaxis.tick_right()
    ax.set_yticks(ticks)
    ax.set_yticklabels([fmt.format(t) for t in ticks])
    ax.tick_params(axis="y", direction="out", length=3, width=0.8, pad=2,
                   labelsize=7.8, labelcolor=TXT)
    ax.set_xticks([])


def style_vol(ax, ticks, pos, labs, boxed):
    for s in ("left", "top"):
        ax.spines[s].set_visible(False)
    ax.spines["right"].set_linewidth(1.0)
    ax.spines["bottom"].set_linewidth(1.6)
    ax.yaxis.tick_right()
    ax.set_yticks(ticks)
    ax.set_yticklabels([str(t) for t in ticks])
    ax.tick_params(axis="y", direction="out", length=3, width=0.8, pad=2,
                   labelsize=7.8, labelcolor=TXT)
    ax.set_xticks(pos)
    ax.set_xticklabels(labs)
    ax.tick_params(axis="x", direction="out", length=3, width=0.8, pad=2,
                   labelsize=7.8, labelcolor="black")
    for lab in ax.get_xticklabels():
        if lab.get_text() in boxed:
            lab.set_color("white")
            lab.set_bbox(dict(boxstyle="square,pad=0.2", fc="black", ec="none"))


# ═══ Left: hourly ═══
axL = px_ax(1, 2, 1407, 1215)
axLv = px_ax(1, 1215, 1407, 1335)
for a in (axL, axLv):
    a.set_xlim(0.5, 703.5)
axL.set_ylim(5443.8, 6124.1)
axLv.set_ylim(0, 184600)

axL.vlines(hour_bar, hour_low, hour_high, color="black", lw=1.0)
axL.plot(hour_bar, hour_close, color="black", lw=0.8)
for p, x0, c, d in zip(hour_level_price, hour_level_start, hour_level_color, hour_level_dash):
    axL.hlines(p, x0, 700.5, colors=c, lw=1.5,
               linestyles=(0, (3, 2)) if d else "solid")
style_price(axL, np.arange(5460, 6101, 20), "{:.2f}")
axL.text(1.003, last_price, f"{last_price:.2f}", transform=axL.get_yaxis_transform(),
         ha="left", va="center", color="white", fontsize=7.8, clip_on=False,
         bbox=dict(boxstyle="square,pad=0.15", fc="black", ec="none"))

for start, vals in zip(vol_cluster_start, vol_cluster_k):
    xs = start + np.arange(len(vals))
    axLv.bar(xs, np.array(vals) * 1000, width=1.5, color="black", linewidth=0)
style_vol(axLv, [40000, 80000, 120000], hour_tick_pos, hour_tick_lab,
          [l for l in hour_tick_lab if "-" in l])

# ═══ Right: 1 minute ═══
axR = px_ax(1470, 2, 3143, 1100)
axRv = px_ax(1470, 1100, 3143, 1335)
for a in (axR, axRv):
    a.set_xlim(0, 840.7)
axR.set_ylim(5902.4, 5960.6)
axRv.set_ylim(0, 734)

axR.vlines(min_bar, min_low, min_high, color="black", lw=0.6)
axR.plot(min_bar, min_close, color="black", lw=0.6)
for p, x0, c in zip(min_level_price, min_level_start, min_level_color):
    axR.hlines(p, x0, 836.5, colors=c, lw=1.5)
style_price(axR, np.arange(5904, 5959, 2), "{:.2f}")
axR.text(1.002, last_price, f"{last_price:.2f}", transform=axR.get_yaxis_transform(),
         ha="left", va="bottom", color="white", fontsize=7.8, clip_on=False,
         bbox=dict(boxstyle="square,pad=0.15", fc="black", ec="none"))

axRv.bar(min_vol_bar, min_vol, width=1.7, color="black", linewidth=0)
style_vol(axRv, [100, 200, 300, 400, 500, 600], min_tick_pos, min_tick_lab, ["8-15"])

# ── Annotations ──
TS = 16.3
ftxt(747, 76, "Hourly.", ha="center", fontsize=TS, family="Open Sans")
ftxt(747, 137, "Price is back into the earlier range and in an area of resistance.",
     ha="center", fontsize=TS, family="Open Sans")
ftxt(2346, 92, "1 Minute.", ha="center", fontsize=TS, family="Open Sans")
ftxt(2346, 147, "Levels prior to the open.", ha="center", fontsize=TS, family="Open Sans")

ftxt(8, 1227, "Volume  Volume: 2051", fontsize=7.5, color=TXT)
ftxt(1478, 1113, "Volume  Volume: 20", fontsize=7.5, color=TXT)

# ── Header strips ──
HS = 7.6
box = lambda c: dict(boxstyle="square,pad=0.15", fc=c, ec="none")
ftxt(7, 10, "NQU7 [CV]  60 Min  #2", fontsize=HS)
ftxt(131, 10, "C: 5922.75", fontsize=HS, color="white", bbox=box("black"))
ftxt(187, 10, "T: 1599", fontsize=HS)
ftxt(227, 10, "Chg: -0.25", fontsize=HS, color="white", bbox=box("#ff0000"))
ftxt(284, 10, "DChg: 9.25", fontsize=HS, color="white", bbox=box("#00ff00"))
ftxt(343, 10, "2017-08-15 09:20:12 H: 5924.50 L: 5921.25 O: 5923.00 V: 2051 B: 5922.75 "
     "A: 5923.00 TR: 39m 48s DV: 38060", fontsize=HS)

ftxt(1475, 10, "NQU7 [CV]  1 Min  #1", fontsize=HS)
ftxt(1593, 10, "C: 5922.75", fontsize=HS, color="white", bbox=box("black"))
ftxt(1648, 10, "T: 18", fontsize=HS)
ftxt(1677, 10, "Chg: 0.25", fontsize=HS, color="white", bbox=box("#00ff00"))
ftxt(1727, 10, "DChg: 9.25", fontsize=HS, color="white", bbox=box("#00ff00"))
ftxt(1787, 10, "2017-08-15 09:20:12 H: 5923.00 L: 5922.50 O: 5922.75 V: 20 B: 5922.75 "
     "A: 5923.00 TR: 48s DV: 38060 Clock - RealTime   (20, 90, No, No, No, No)", fontsize=HS)

# green page markers
ftxt(1449, 1347, "1", ha="center", fontsize=7.8, bbox=dict(boxstyle="square,pad=0.25", fc="#00c800", ec="none"))
ftxt(3192, 1347, "1", ha="center", fontsize=7.8, bbox=dict(boxstyle="square,pad=0.25", fc="#00c800", ec="none"))

# ── Window frame ──
def frame(x0, y0, x1, y1, c):
    fig.add_artist(Rectangle((x0 / W, 1 - y1 / H), (x1 - x0) / W, (y1 - y0) / H,
                             transform=fig.transFigure, fc=c, ec="none", zorder=5))

frame(0, 0, W, 2, "#a0a0a0")
frame(0, 0, 1.5, H, "black")
frame(1456, 0, 1465, H, "#d4d0c8")
frame(1456, 0, 1458, H, "#a0a0a0")
frame(1466, 0, 1468, H, "black")
frame(3197, 0, W, H, "#c8c8c8")

fig.savefig("out.png", dpi=100, facecolor="white")
